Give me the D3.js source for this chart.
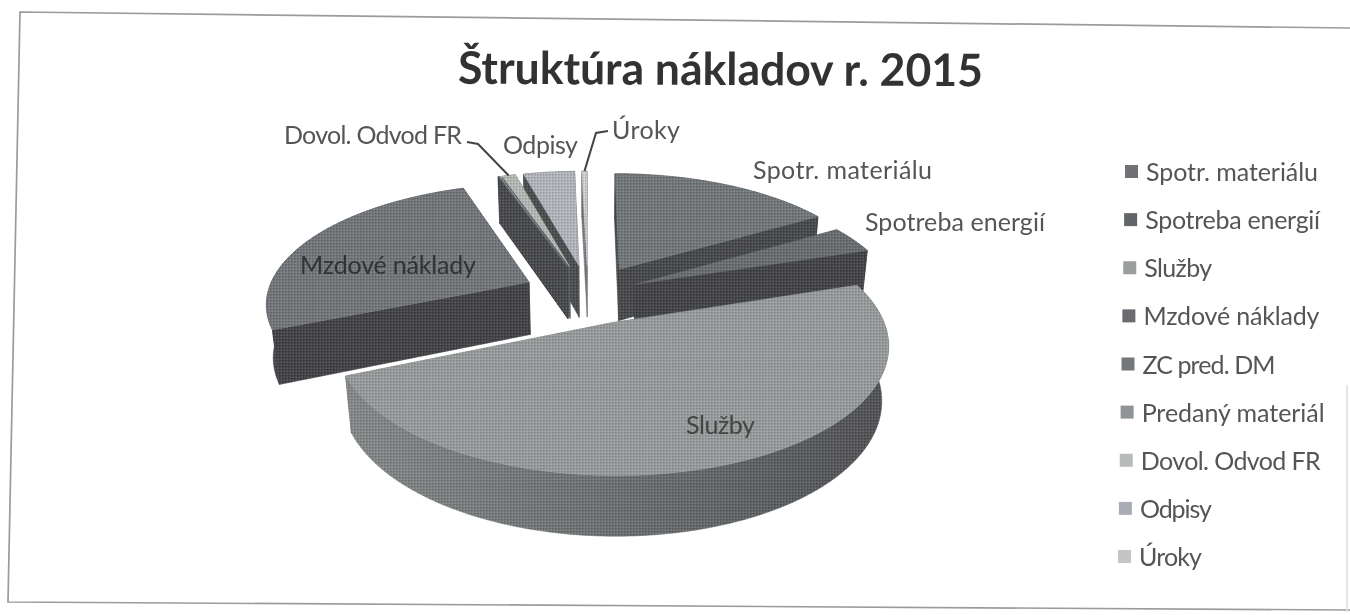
<!DOCTYPE html>
<html>
<head>
<meta charset="utf-8">
<script src="https://cdn.jsdelivr.net/npm/d3@7"></script>
<style>
  html, body { margin: 0; padding: 0; background: #fff; }
  svg { display: block; }
  text { font-family: Lato, "Open Sans", sans-serif; }
</style>
</head>
<body>
<svg width="1350" height="615"></svg>
<script>
const title = "Štruktúra nákladov r. 2015";
const categories = ["Spotr. materiálu", "Spotreba energií", "Služby", "Mzdové náklady", "ZC pred. DM", "Predaný materiál", "Dovol. Odvod FR", "Odpisy", "Úroky"];
// shares in percent
const values = [16.4, 3.6, 48.6, 26.1, 0.06, 0.08, 1.0, 3.75, 0.41];

const topColors = ["#72777a", "#6a6d70", "#989c9d", "#72767a", "#62656b", "#a3a4b2", "#b4bab6", "#b3b6bc", "#cfcfd2"];
const wallColors = ["#47494b", "#434447", "#6b6e70", "#434347", "#47494c", "#5a5d60", "#55585a", "#4c4e50", "#77797b"];
const legendColors = ["#6f7274", "#62656a", "#9a9e9d", "#6b6c72", "#74777a", "#8f9496", "#b6bab8", "#a9acb4", "#c4c6c4"];

// projection of the 3d pie
const cx = 588, cy = 294;
const scaleX = 262, scaleZ = 118, persp = 0.16, sink = 0.0004, depth = 54, explode = 0.25;
// the energy wedge sits closer to the centre than the others
const explodeOf = i => i === 1 ? 0.2 : explode;

const project = (x, z, h) => {
    const f = 1 / (1 - persp * z + sink * h);
    return [cx + scaleX * x * f, cy + scaleZ * z * f + h * f];
};

const svg = d3.select("svg");
const defs = svg.append("defs");

// scanned halftone look
const hatch = defs.append("pattern").attr("id", "halftone")
    .attr("width", 3).attr("height", 3).attr("patternUnits", "userSpaceOnUse");
hatch.append("rect").attr("width", 1.5).attr("height", 1.5).attr("fill", "#000").attr("opacity", 0.16);
hatch.append("rect").attr("x", 1.5).attr("y", 1.5).attr("width", 1.5).attr("height", 1.5).attr("fill", "#fff").attr("opacity", 0.12);

const soft = defs.append("filter").attr("id", "soft");
soft.append("feGaussianBlur").attr("stdDeviation", 0.5);

const wallGrad = defs.append("linearGradient").attr("id", "wallGrad")
    .attr("gradientUnits", "userSpaceOnUse")
    .attr("x1", 350).attr("x2", 890).attr("y1", 0).attr("y2", 0);
[[0, "#858989"], [0.35, "#737778"], [0.7, "#626567"], [1, "#505154"]].forEach(([o, c]) => {
    wallGrad.append("stop").attr("offset", o).attr("stop-color", c);
});

const line = d3.line();
const pie = d3.pie().sort(null).value(d => d);
const arcs = pie(values).map((a, i) => {
    const mid = (a.startAngle + a.endAngle) / 2;
    return {
        i: i,
        start: a.startAngle,
        end: a.endAngle,
        mid: mid,
        ox: explodeOf(i) * Math.sin(mid),
        oz: -explodeOf(i) * Math.cos(mid)
    };
});

function rim(a, h) {
    const n = Math.max(2, Math.ceil((a.end - a.start) * 60));
    return d3.range(n + 1).map(k => {
        const t = a.start + (a.end - a.start) * k / n;
        return project(a.ox + Math.sin(t), a.oz - Math.cos(t), h);
    });
}

function shape(g, points, fill) {
    const d = line(points) + "Z";
    g.append("path").attr("d", d).attr("fill", fill).attr("stroke", fill).attr("stroke-width", 0.5);
    g.append("path").attr("d", d).attr("fill", "url(#halftone)");
}

const frame = svg.append("g").attr("filter", "url(#soft)")
    .attr("fill", "none").attr("stroke", "#9a9c9b").attr("stroke-width", 1.7);
frame.append("path").attr("d", "M1350,28L20,12L8,602L1350,610");
frame.append("path").attr("d", "M1347,385L1347,612").attr("stroke", "#e2e2e2");

const pieG = svg.append("g").attr("filter", "url(#soft)");

// paint from the back to the front
arcs.slice().sort((a, b) => (-Math.cos(a.mid)) - (-Math.cos(b.mid))).forEach(a => {
    const g = pieG.append("g");
    const topRim = rim(a, 0), botRim = rim(a, depth);
    const apexT = project(a.ox, a.oz, 0), apexB = project(a.ox, a.oz, depth);
    const wall = wallColors[a.i];
    shape(g, [apexT, topRim[0], botRim[0], apexB], wall);
    shape(g, [apexT, topRim[topRim.length - 1], botRim[botRim.length - 1], apexB], wall);
    shape(g, topRim.concat(botRim.slice().reverse()), a.i === 2 ? "url(#wallGrad)" : wall);
    shape(g, [apexT].concat(topRim), topColors[a.i]);
});

const textG = svg.append("g").attr("filter", "url(#soft)");

textG.append("text").attr("x", 458).attr("y", 85)
    .attr("transform", "rotate(0.3 720 70)")
    .attr("font-size", 45).attr("font-weight", 700).attr("fill", "#333")
    .attr("textLength", 525).attr("lengthAdjust", "spacingAndGlyphs")
    .text(title);

// labels on and around the pie
const labels = [
    { i: 0, x: 753, y: 179, w: 179, fill: "#555" },
    { i: 1, x: 865, y: 231, w: 180, fill: "#555" },
    { i: 2, x: 686, y: 434, w: 69, fill: "#444" },
    { i: 3, x: 300, y: 274, w: 176, fill: "#333" },
    { i: 6, x: 284, y: 144, w: 178, fill: "#555" },
    { i: 7, x: 503, y: 154, w: 75, fill: "#555" },
    { i: 8, x: 612, y: 139, w: 68, fill: "#555" }
];
textG.selectAll("text.label").data(labels).enter().append("text")
    .attr("class", "label")
    .attr("x", d => d.x).attr("y", d => d.y)
    .attr("font-size", 25).attr("fill", d => d.fill)
    .attr("textLength", d => d.w).attr("lengthAdjust", "spacing")
    .text(d => categories[d.i]);

// leader lines
const leader = (i, kink, elbow) => {
    const a = arcs[i];
    const end = project(a.ox + Math.sin(a.mid), a.oz - Math.cos(a.mid), 0);
    textG.append("path").attr("fill", "none").attr("stroke", "#444").attr("stroke-width", 2)
        .attr("d", line([kink, elbow, end]));
};
leader(6, [467, 142], [478, 144]);
leader(8, [608, 131], [596, 133]);

// legend, drifts left a little because the page was scanned askew
const legendY = d3.scalePoint().domain(d3.range(categories.length)).range([172, 557]);
const legendX = d3.scaleLinear().domain([0, categories.length - 1]).range([1125, 1118]);
const legendW = [172, 175, 68, 176, 133, 183, 180, 72, 63];
const rows = textG.append("g").selectAll("g").data(categories).enter().append("g")
    .attr("transform", (d, i) => `translate(${legendX(i)},${legendY(i)})`);
rows.append("rect").attr("y", -7).attr("width", 13).attr("height", 13)
    .attr("fill", (d, i) => legendColors[i]);
rows.append("text").attr("x", 21).attr("y", 9).attr("font-size", 25).attr("fill", "#555")
    .attr("textLength", (d, i) => legendW[i]).attr("lengthAdjust", "spacing")
    .text(d => d);
</script>
</body>
</html>
